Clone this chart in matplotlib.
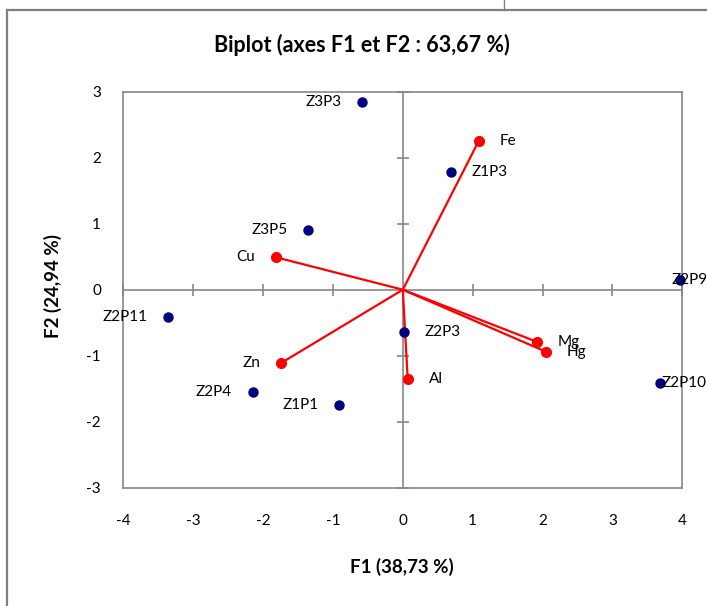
import matplotlib
matplotlib.use("Agg")
import matplotlib.pyplot as plt
from matplotlib.lines import Line2D

plt.rcParams['font.family'] = ['Lato', 'DejaVu Sans']
plt.rcParams['axes.unicode_minus'] = False

# observations (active rows)
obs_names = ['Z3P3', 'Z3P5', 'Z1P3', 'Z2P9', 'Z2P11', 'Z2P4', 'Z1P1', 'Z2P3', 'Z2P10']
obs_f1 = [-0.58, -1.35, 0.69, 3.97, -3.36, -2.15, -0.91, 0.02, 3.68]
obs_f2 = [2.85, 0.91, 1.78, 0.15, -0.41, -1.55, -1.74, -0.64, -1.42]

# variables (vectors)
var_names = ['Fe', 'Cu', 'Zn', 'Al', 'Mg', 'Hg']
var_f1 = [1.09, -1.81, -1.74, 0.07, 1.92, 2.05]
var_f2 = [2.26, 0.49, -1.11, -1.35, -0.79, -0.94]

x_ticks = [-4, -3, -2, -1, 0, 1, 2, 3, 4]
y_ticks = [-3, -2, -1, 0, 1, 2, 3]

# label offsets in points (x shift, horizontal alignment)
label_pos = {
    'Z3P3': (-15, 'right'), 'Z3P5': (-15, 'right'), 'Z1P3': (15, 'left'),
    'Z2P9': (-6.5, 'left'), 'Z2P11': (-15, 'right'), 'Z2P4': (-15, 'right'),
    'Z1P1': (-15, 'right'), 'Z2P3': (15, 'left'), 'Z2P10': (1.5, 'left'),
    'Fe': (15, 'left'), 'Cu': (-15, 'right'), 'Zn': (-15, 'right'),
    'Al': (15, 'left'), 'Mg': (15, 'left'), 'Hg': (15, 'left'),
}

grey = '#868686'
W, H = 707, 606
fig = plt.figure(figsize=(W / 100, H / 100), dpi=100)

# chart outer frame (Excel chart area border)
fig.add_artist(Line2D([7 / W, 7 / W], [0, 1 - 10 / H], color='#7f7f7f', lw=1.6))
fig.add_artist(Line2D([7 / W, 1], [1 - 10 / H, 1 - 10 / H], color='#7f7f7f', lw=1.6))
fig.add_artist(Line2D([504 / W, 504 / W], [1 - 10 / H, 1], color='#7f7f7f', lw=1.0))

ax = fig.add_axes([123.3 / W, 1 - 487.7 / H, (682.3 - 123.3) / W, (487.7 - 91.7) / H])
ax.set_xlim(-4, 4)
ax.set_ylim(-3, 3)
for s in ax.spines.values():
    s.set_color(grey)
    s.set_linewidth(1.2)
ax.set_xticks(x_ticks)
ax.set_yticks(y_ticks)
ax.tick_params(axis='both', length=0, labelsize=11, colors='black')
ax.tick_params(axis='x', pad=19)
ax.tick_params(axis='y', pad=16)

# zero axes with crossing tick marks
ax.axhline(0, color=grey, lw=1.2, zorder=1)
ax.axvline(0, color=grey, lw=1.2, zorder=1)
ax.plot([t for t in x_ticks if t != 0], [0] * 8, ls='none', marker='|',
        ms=8, mew=1.2, color=grey, zorder=1, clip_on=False)
ax.plot([0] * 6, [t for t in y_ticks if t != 0], ls='none', marker='_',
        ms=8, mew=1.2, color=grey, zorder=1, clip_on=False)

# observations
ax.plot(obs_f1, obs_f2, ls='none', marker='o', ms=6.5, color='#000080',
        zorder=3, clip_on=False)

# variable vectors
for x, y in zip(var_f1, var_f2):
    ax.plot([0, x], [0, y], color='red', lw=1.6, zorder=2)
ax.plot(var_f1, var_f2, ls='none', marker='o', ms=7, color='red', zorder=4)

for name, x, y in zip(obs_names + var_names, obs_f1 + var_f1, obs_f2 + var_f2):
    dx, ha = label_pos[name]
    ax.annotate(name, (x, y), xytext=(dx, 0), textcoords='offset points',
                ha=ha, va='center', fontsize=11, annotation_clip=False)

fig.text(362 / W, 1 - 45 / H, 'Biplot (axes F1 et F2 : 63,67 %)',
         ha='center', va='center', fontsize=15.5, fontweight='bold')
fig.text(402 / W, 1 - 567 / H, 'F1 (38,73 %)', ha='center', va='center',
         fontsize=13.5, fontweight='bold')
fig.text(53 / W, 1 - 286 / H, 'F2 (24,94 %)', ha='center', va='center',
         fontsize=13.5, fontweight='bold', rotation=90)

fig.savefig('out.png', dpi=100)
